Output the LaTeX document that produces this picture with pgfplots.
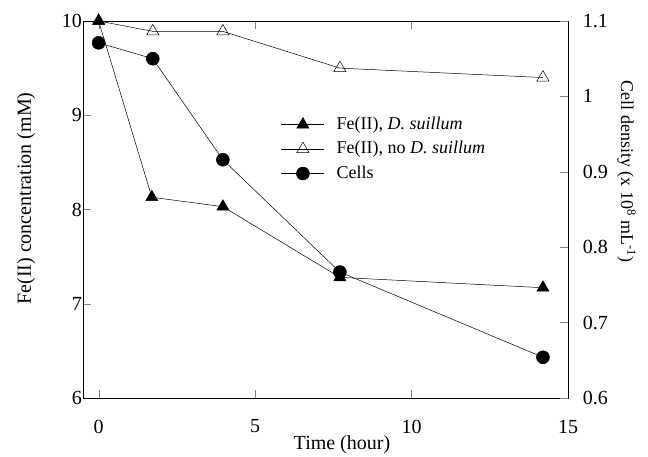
\documentclass[border=0pt]{standalone}
\usepackage{fontspec}
\setmainfont{Liberation Serif}
\usepackage{pgfplots}
\pgfplotsset{compat=1.18}
\begin{document}
\fontsize{20}{24}\selectfont
\begin{tikzpicture}
\pgfplotsset{
  longleg/.style={
    legend image code/.code={
      \draw[mark repeat=2, mark phase=2, ##1] plot coordinates {(0pt,0pt) (21.5pt,0pt) (43pt,0pt)};
    },
  },
  every axis/.append style={
    scale only axis, width=485pt, height=377pt,
    xmin=-0.5, xmax=15,
    tick align=inside,
    major tick length=8pt,
    /pgf/number format/assume math mode=true,
    tick label style={font=\fontsize{20}{24}\selectfont},
    label style={font=\fontsize{20}{24}\selectfont},
  },
}
\begin{axis}[
  ymin=6, ymax=10,
  ytick={6,7,8,9,10},
  xtick={0,5,10,15},
  xtick pos=both,
  ytick pos=left,
  yticklabel style={inner sep=1pt},
  xticklabel style={yshift=-15pt},
  xlabel={Time (hour)},
  xlabel style={at={(axis description cs:0.534,-0.124)}, anchor=center},
  ylabel={Fe(II) concentration (mM)},
  ylabel style={at={(axis description cs:-0.1175,0.529)}, anchor=center},
]
\addplot[black, line width=0.5pt, mark=triangle, mark size=7pt, mark options={fill=white, solid}] coordinates {
  (0,10) (1.73,9.89) (3.97,9.89) (7.71,9.50) (14.2,9.40)
};
\addplot[black, line width=0.5pt, mark=triangle*, mark size=7pt, mark options={fill=black, solid}] coordinates {
  (0,10) (1.7,8.13) (3.97,8.03) (7.71,7.28) (14.2,7.17)
};
\end{axis}
\begin{axis}[
  ymin=0.6, ymax=1.1,
  ytick={0.6,0.7,0.8,0.9,1,1.1},
  yticklabels={0.6,0.7,0.8,0.9,1,1.1},
  yticklabel style={xshift=8pt},
  axis y line*=right,
  axis x line=none,
  ylabel={Cell density (x 10\textsuperscript{8} mL\textsuperscript{-1})},
  ylabel style={rotate=180, at={(axis description cs:1.1206,0.6)}, anchor=center,
    font=\fontsize{18}{22}\selectfont},
  legend style={draw=none, fill=none, at={(0.402,0.757)}, anchor=north west,
    font=\fontsize{18}{22}\selectfont, row sep=5pt,
    /tikz/every odd column/.append style={column sep=10pt}},
  legend cell align=left,
]
\addlegendimage{longleg, black, line width=0.5pt, mark=triangle*, mark size=7pt, mark options={fill=black}}
\addlegendentry{Fe(II), \textit{D. suillum}}
\addlegendimage{longleg, black, line width=0.5pt, mark=triangle, mark size=7pt, mark options={fill=white}}
\addlegendentry{Fe(II), no \textit{D. suillum}}
\addplot[longleg, black, line width=0.5pt, mark=*, mark size=6.5pt, mark options={fill=black, solid}] coordinates {
  (0,1.071) (1.73,1.05) (3.97,0.916) (7.71,0.767) (14.2,0.654)
};
\addlegendentry{Cells}
\end{axis}
\pgfresetboundingbox
\useasboundingbox (-83pt,-59pt) rectangle (565pt,398pt);
\end{tikzpicture}
\end{document}
